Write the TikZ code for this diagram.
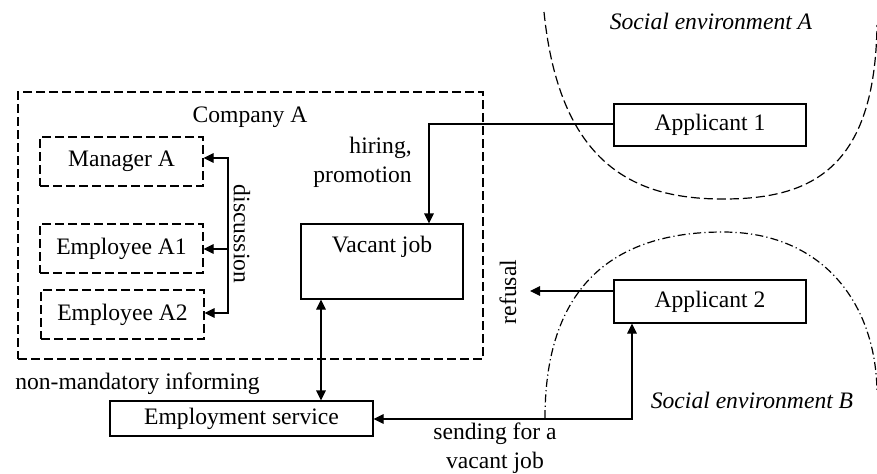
\documentclass[tikz,border=0pt]{standalone}
\usepackage{fontspec}
\setmainfont{Liberation Serif}
\usetikzlibrary{arrows.meta,calc}
\begin{document}
\begin{tikzpicture}[x=0.5pt,y=-0.5pt,
  font=\fontsize{11.8pt}{14.5pt}\selectfont,
  line width=0.6pt,
  dsh/.style={dash pattern=on 4.5pt off 2pt},
  dshdot/.style={dash pattern=on 4pt off 1.6pt on 0.6pt off 1.6pt},
  dashbox/.style={draw, dsh, inner sep=0pt, minimum width=81.5pt, minimum height=24.5pt},
  tip/.style={-{Triangle[length=5pt,width=4.8pt]}},
  dtip/.style={{Triangle[length=5pt,width=4.8pt]}-{Triangle[length=5pt,width=4.8pt]}}
]
\useasboundingbox (0,0) rectangle (877,473);
% company
\node[draw, dsh, inner sep=0pt, minimum width=232.5pt, minimum height=133.5pt] (company) at (250.5,225.5) {};
\node (companylbl) at (250,117) {Company A};
\node[dashbox] (manager) at (121.5,161.5) {Manager A};
\node[dashbox] (emp1) at (121.5,248.5) {Employee A1};
\node[dashbox] (emp2) at (122.5,314.5) {Employee A2};
% discussion
\coordinate (d1) at (228,158);
\coordinate (d2) at (228,249);
\coordinate (d3) at (228,313);
\draw[dtip] (manager.east |- d1) -- (d1) -- (d3) -- (emp2.east |- d3);
\draw[tip] (d2) -- (emp1.east |- d2);
\node[rotate=-90] (disclbl) at (242,234) {discussion};
% vacant job
\node[draw, inner sep=0pt, minimum width=81pt, minimum height=37.5pt] (vacant) at (382,261.5) {};
\node (vacantlbl) at (382,247) {Vacant job};
% applicants
\node[draw, inner sep=0pt, minimum width=96pt, minimum height=21pt] (app1) at (710,125) {Applicant 1};
\node[draw, inner sep=0pt, minimum width=96pt, minimum height=21.5pt] (app2) at (710,301.5) {Applicant 2};
% employment service
\node[draw, inner sep=0pt, minimum width=131.5pt, minimum height=17.5pt] (es) at (241.5,418.5) {Employment service};
% hiring
\coordinate (h) at (429,124);
\draw[tip] (app1.west |- h) -- (h) -- (h |- vacant.north);
\node[anchor=east, align=right] (hirelbl) at (419,162) {hiring,\\promotion};
% vacant <-> employment service
\coordinate (v) at (321,299);
\draw[dtip] (v |- vacant.south) -- (v |- es.north);
\node[anchor=west] (nmlbl) at (8,384) {non-mandatory informing};
% refusal
\coordinate (r) at (530,291);
\draw[tip] (app2.west |- r) -- (r);
\node[rotate=90] (reflbl) at (508,292) {refusal};
% sending
\coordinate (s) at (632,419);
\draw[dtip] (es.east |- s) -- (s) -- (s |- app2.south);
\node[align=center] (sendlbl) at (495,448) {sending for a\\vacant job};
% social environments
\draw[dsh] (544,12) .. controls (560,170) and (640,199) .. (723,199)
           .. controls (810,199) and (875,170) .. (877,25);
\draw[dshdot] (545,418) .. controls (545,280) and (620,232) .. (723,232)
           .. controls (820,232) and (875,300) .. (877,390);
\node[font=\fontsize{11.8pt}{14.5pt}\selectfont\itshape] (envA) at (711,21) {Social environment A};
\node[font=\fontsize{11.8pt}{14.5pt}\selectfont\itshape] (envB) at (752,400) {Social environment B};
\end{tikzpicture}
\end{document}
